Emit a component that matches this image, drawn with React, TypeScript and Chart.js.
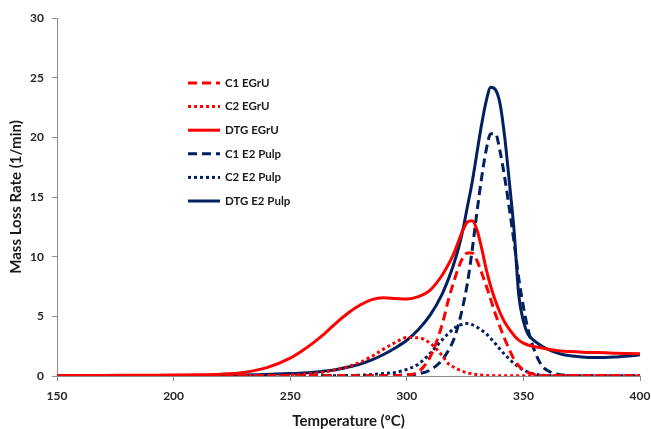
import React, { useEffect, useRef } from "react";
import { Chart, registerables } from "chart.js";

Chart.register(...registerables);

const temps = [150,160,170,180,190,200,210,220,230,240,250,255,260,265,270,275,280,285,290,295,300,305,310,315,318,320,322,324,326,328,330,332,334,336,338,340,342,344,346,348,350,352,355,358,362,366,370,375,380,385,390,395,400];

const c1EGrU = [0.02,0.02,0.02,0.02,0.02,0.02,0.02,0.02,0.02,0.02,0.02,0.02,0.02,0.02,0.02,0.02,0.02,0.02,0.02,0.03,0.1,0.35,1.6,4.2,6.5,7.8,9.0,9.9,10.3,10.3,9.7,8.7,7.6,6.4,5.2,4.1,3.1,2.2,1.4,0.85,0.5,0.3,0.12,0.05,0.02,0.02,0.02,0.02,0.02,0.02,0.02,0.02,0.02];
const c2EGrU = [0.02,0.02,0.02,0.02,0.02,0.02,0.02,0.02,0.02,0.02,0.08,0.14,0.22,0.35,0.55,0.8,1.15,1.65,2.25,2.8,3.22,3.2,2.75,1.75,1.0,0.75,0.55,0.38,0.26,0.18,0.12,0.08,0.05,0.02,0.02,0.02,0.02,0.02,0.02,0.02,0.02,0.02,0.02,0.02,0.02,0.02,0.02,0.02,0.02,0.02,0.02,0.02,0.02];
const dtgEGrU = [0.05,0.05,0.05,0.06,0.07,0.08,0.1,0.15,0.3,0.7,1.5,2.1,2.8,3.6,4.5,5.3,5.95,6.4,6.55,6.5,6.45,6.65,7.2,8.4,9.4,10.2,11.2,12.2,12.9,13.0,12.3,10.8,9.0,7.5,6.3,5.3,4.5,3.9,3.4,3.0,2.75,2.6,2.45,2.35,2.2,2.1,2.05,2.0,1.97,1.94,1.9,1.88,1.86];
const c1Pulp = [0.02,0.02,0.02,0.02,0.02,0.02,0.02,0.02,0.02,0.02,0.02,0.02,0.02,0.02,0.02,0.02,0.02,0.02,0.02,0.04,0.08,0.18,0.5,1.3,2.2,3.0,4.2,5.8,7.8,10.5,13.6,16.5,18.9,20.3,20.3,18.8,16.6,14.0,11.2,8.2,5.8,3.9,2.0,0.85,0.3,0.1,0.05,0.02,0.02,0.02,0.02,0.02,0.02];
const c2Pulp = [0.02,0.02,0.02,0.02,0.02,0.02,0.02,0.02,0.02,0.02,0.02,0.02,0.02,0.02,0.02,0.04,0.07,0.12,0.2,0.3,0.55,1.0,1.9,3.0,3.6,3.95,4.2,4.35,4.4,4.3,4.1,3.85,3.55,3.15,2.7,2.25,1.8,1.4,1.05,0.75,0.5,0.33,0.15,0.07,0.02,0.02,0.02,0.02,0.02,0.02,0.02,0.02,0.02];
const dtgPulp = [0.05,0.05,0.05,0.05,0.05,0.05,0.05,0.06,0.08,0.12,0.2,0.25,0.32,0.42,0.55,0.75,1.0,1.35,1.8,2.35,3.0,3.9,5.1,6.8,8.2,9.3,10.6,12.2,14.2,16.2,18.6,21.0,23.0,24.2,24.0,22.8,20.0,16.2,12.2,6.8,4.6,3.5,2.9,2.5,2.1,1.85,1.7,1.6,1.55,1.55,1.6,1.68,1.78];

const seriesLabels = ["C1 EGrU", "C2 EGrU", "DTG EGrU", "C1 E2 Pulp", "C2 E2 Pulp", "DTG E2 Pulp"];
const xTicks = [150, 200, 250, 300, 350, 400];
const yTicks = [0, 5, 10, 15, 20, 25, 30];

const RED = "#FF0000";
const NAVY = "#002060";
const FONT = "Lato, 'Open Sans', sans-serif";

export default function App() {
  const ref = useRef<HTMLCanvasElement | null>(null);
  useEffect(() => {
    document.body.style.margin = "0";
    const canvas = ref.current;
    if (!canvas) return;
    const mk = (vals: number[]) => temps.map((t, i) => ({ x: t, y: vals[i] }));
    const styles = [
      { data: c1EGrU, color: RED, dash: [9, 5] },
      { data: c2EGrU, color: RED, dash: [3, 3] },
      { data: dtgEGrU, color: RED, dash: [] as number[] },
      { data: c1Pulp, color: NAVY, dash: [9, 5] },
      { data: c2Pulp, color: NAVY, dash: [3, 3] },
      { data: dtgPulp, color: NAVY, dash: [] as number[] },
    ];
    const datasets = styles.map((s, i) => ({
      label: seriesLabels[i],
      data: mk(s.data),
      borderColor: s.color,
      backgroundColor: s.color,
      borderWidth: 3,
      borderDash: s.dash,
      pointRadius: 0,
      fill: false,
      cubicInterpolationMode: "monotone" as const,
    }));

    const legendPlugin = {
      id: "customLegend",
      afterDraw(chart: any) {
        const ctx = chart.ctx;
        ctx.save();
        const x0 = 188, x1 = 220, tx = 225, y0 = 83, dy = 23.6;
        styles.forEach((s, i) => {
          const y = y0 + i * dy;
          ctx.strokeStyle = s.color;
          ctx.lineWidth = 3;
          ctx.setLineDash(s.dash);
          ctx.beginPath();
          ctx.moveTo(x0, y);
          ctx.lineTo(x1, y);
          ctx.stroke();
          ctx.setLineDash([]);
          ctx.fillStyle = "#1a1a1a";
          ctx.font = `bold 11.5px ${FONT}`;
          ctx.textBaseline = "middle";
          ctx.textAlign = "left";
          ctx.fillText(seriesLabels[i], tx, y);
        });
        ctx.restore();
      },
    };

    const chart = new Chart(canvas, {
      type: "line",
      data: { datasets },
      plugins: [legendPlugin],
      options: {
        animation: false,
        responsive: false,
        maintainAspectRatio: false,
        layout: { padding: { left: 0, right: 11, top: 18, bottom: 0 } },
        plugins: { legend: { display: false }, tooltip: { enabled: false } },
        scales: {
          x: {
            type: "linear",
            min: 150,
            max: 400,
            afterBuildTicks: (scale: any) => {
              scale.ticks = xTicks.map((v) => ({ value: v }));
            },
            afterFit: (scale: any) => {
              scale.height = 53;
              scale.paddingRight = 10;
              scale.paddingLeft = 10;
            },
            grid: { drawOnChartArea: false, drawTicks: true, tickLength: 5, color: "#8c8c8c" },
            border: { color: "#8c8c8c", width: 1 },
            ticks: { color: "#262626", font: { family: FONT, size: 12, weight: "bold" }, padding: 8, maxRotation: 0 },
            title: {
              display: true,
              text: "Temperature (ºC)",
              color: "#1a1a1a",
              font: { family: FONT, size: 15, weight: "bold", lineHeight: 1 },
              padding: { top: 0, bottom: 0 },
            },
          },
          y: {
            type: "linear",
            min: 0,
            max: 30,
            afterBuildTicks: (scale: any) => {
              scale.ticks = yTicks.map((v) => ({ value: v }));
            },
            afterFit: (scale: any) => {
              scale.width = 57;
            },
            grid: { drawOnChartArea: false, drawTicks: true, tickLength: 5, color: "#8c8c8c" },
            border: { color: "#8c8c8c", width: 1 },
            ticks: { color: "#262626", font: { family: FONT, size: 12, weight: "bold" }, padding: 8 },
            title: {
              display: true,
              text: "Mass Loss Rate (1/min)",
              color: "#1a1a1a",
              font: { family: FONT, size: 15, weight: "bold", lineHeight: 1 },
              padding: { top: 9, bottom: 0 },
            },
          },
        },
      },
    });
    return () => chart.destroy();
  }, []);
  return <canvas ref={ref} width={651} height={429} style={{ display: "block" }} />;
}
